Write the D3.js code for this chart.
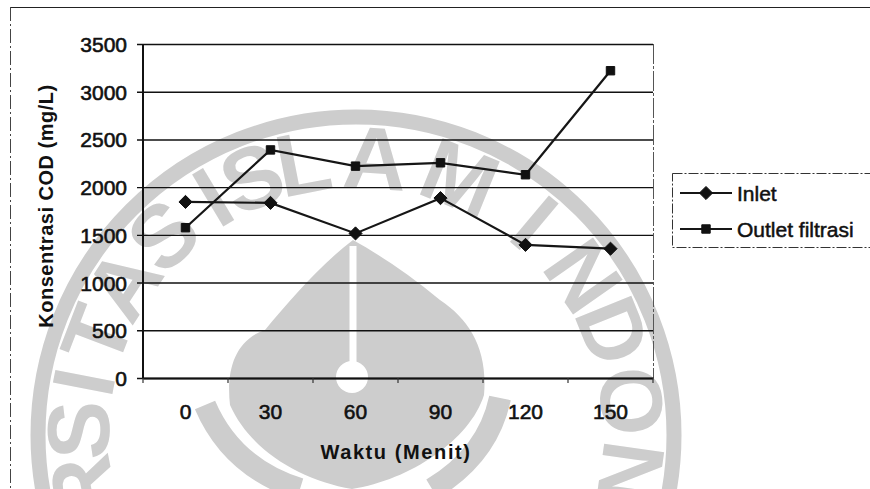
<!DOCTYPE html>
<html>
<head>
<meta charset="utf-8">
<script src="https://cdn.jsdelivr.net/npm/d3@7"></script>
<style>
  body { margin: 0; background: #fff; }
  svg text { font-family: 'Liberation Sans', Arial, sans-serif; fill: #111; }
</style>
</head>
<body>
<div id="chart"></div>
<script>
// data
const waktu = ['0', '30', '60', '90', '120', '150'];
const inlet = [1845, 1835, 1515, 1885, 1395, 1355];
const outletFiltrasi = [1575, 2390, 2220, 2255, 2130, 3220];
const yTicks = [0, 500, 1000, 1500, 2000, 2500, 3000, 3500];

const series = [
  { name: 'Inlet', values: inlet, marker: 'diamond' },
  { name: 'Outlet filtrasi', values: outletFiltrasi, marker: 'square' }
];

const W = 870, H = 489;
const margin = { top: 44, right: 217, bottom: 111, left: 143 };
const width = W - margin.left - margin.right;
const height = H - margin.top - margin.bottom;

const svg = d3.select('#chart').append('svg')
  .attr('width', W)
  .attr('height', H);

// faint watermark left by the scan (university seal)
const WM = '#cdcdcd';
const wm = svg.append('g').attr('class', 'watermark');
const cx = 356, cy = 435;
wm.append('circle')
  .attr('cx', cx).attr('cy', cy).attr('r', 318)
  .attr('fill', 'none')
  .attr('stroke', WM)
  .attr('stroke-width', 15);
// letters of the seal that show inside the frame, with their angle on the ring
const sealLetters = [
  ['R', -101], ['S', -89], ['I', -79], ['T', -69], ['A', -57], ['S', -44],
  ['I', -31], ['S', -22], ['L', -11], ['A', 4], ['M', 22],
  ['I', 40], ['N', 55], ['D', 68], ['O', 83], ['N', 98]
];
wm.selectAll('text')
  .data(sealLetters)
  .enter()
  .append('text')
  .attr('transform', d => `translate(${cx},${cy}) rotate(${d[1]}) translate(0,-247)`)
  .attr('text-anchor', 'middle')
  .attr('font-size', 88)
  .attr('font-weight', 'bold')
  .style('fill', WM)
  .text(d => d[0]);
wm.append('path')
  .attr('d', 'M353,240 C320,265 290,300 265,330 C235,340 226,370 230,405 C250,450 300,480 352,489 C410,480 470,440 484,395 C488,350 470,320 440,300 C410,275 380,255 353,240 Z')
  .attr('fill', WM);
wm.append('path')
  .attr('d', 'M205,405 Q232,468 300,489')
  .attr('fill', 'none').attr('stroke', WM).attr('stroke-width', 22);
wm.append('path')
  .attr('d', 'M500,398 Q488,455 432,489')
  .attr('fill', 'none').attr('stroke', WM).attr('stroke-width', 22);
wm.append('line')
  .attr('x1', 353).attr('x2', 353).attr('y1', 246).attr('y2', 365)
  .attr('stroke', '#fff').attr('stroke-width', 7);
wm.append('circle')
  .attr('cx', 352).attr('cy', 377).attr('r', 16)
  .attr('fill', '#fff');

// outer chart border (only top and left survive in the scan)
svg.append('line')
  .attr('x1', 10).attr('x2', W).attr('y1', 7.5).attr('y2', 7.5)
  .attr('stroke', '#222').attr('stroke-width', 1.2);
svg.append('line')
  .attr('x1', 10.5).attr('x2', 10.5).attr('y1', 7).attr('y2', H)
  .attr('stroke', '#444').attr('stroke-width', 1)
  .attr('stroke-dasharray', '14,3,2,3');

const g = svg.append('g')
  .attr('transform', `translate(${margin.left},${margin.top})`);

const x = d3.scaleBand().domain(waktu).range([0, width]);
const y = d3.scaleLinear().domain([0, 3500]).range([height, 0]);

// gridlines + y axis
const yAxis = g.append('g')
  .call(d3.axisLeft(y).tickValues(yTicks).tickSize(-width).tickPadding(16).tickFormat(d3.format('d')));
yAxis.select('.domain').remove();
yAxis.selectAll('.tick line')
  .attr('stroke', '#111').attr('stroke-width', 1.4)
  .attr('x1', -6);
yAxis.selectAll('.tick text')
  .attr('font-size', 21)
  .attr('dy', '0.36em')
  .style('stroke', '#111').style('stroke-width', 0.6);

// right border of plot area
g.append('line')
  .attr('x1', width + 0.5).attr('x2', width + 0.5).attr('y1', 0).attr('y2', height)
  .attr('stroke', '#555').attr('stroke-width', 1)
  .attr('stroke-dasharray', '20,2,3,2');

// y axis line
g.append('line')
  .attr('x1', 0).attr('x2', 0).attr('y1', 0).attr('y2', height)
  .attr('stroke', '#111').attr('stroke-width', 2);

// x axis: ticks sit between categories
const xAxis = g.append('g')
  .attr('transform', `translate(0,${height})`)
  .call(d3.axisBottom(x).tickSize(0).tickPadding(26));
xAxis.select('.domain').attr('stroke', '#111').attr('stroke-width', 2.2);
xAxis.selectAll('.tick text')
  .attr('font-size', 21)
  .style('stroke', '#111').style('stroke-width', 0.6);
g.append('g')
  .selectAll('line')
  .data(waktu.concat(['end']))
  .enter()
  .append('line')
  .attr('x1', (d, i) => x.step() * i)
  .attr('x2', (d, i) => x.step() * i)
  .attr('y1', height)
  .attr('y2', height + 5)
  .attr('stroke', '#333').attr('stroke-width', 1.2);

// axis titles
svg.append('text')
  .attr('transform', `translate(53,${margin.top + 162}) rotate(-90)`)
  .attr('text-anchor', 'middle')
  .attr('font-size', 20)
  .attr('font-weight', 'bold')
  .attr('letter-spacing', 0.5)
  .text('Konsentrasi COD (mg/L)');
svg.append('text')
  .attr('x', margin.left + width / 2 - 2)
  .attr('y', 459)
  .attr('text-anchor', 'middle')
  .attr('font-size', 20)
  .attr('font-weight', 'bold')
  .attr('letter-spacing', 1.6)
  .text('Waktu (Menit)');

// lines and markers
const line = d3.line()
  .x((d, i) => x(waktu[i]) + x.bandwidth() / 2)
  .y(d => y(d));

const diamond = d3.symbol().type(d3.symbolDiamond2).size(110);
const square = d3.symbol().type(d3.symbolSquare2).size(90);

function drawMarker(sel, type) {
  sel.append('path')
    .attr('d', type === 'diamond' ? diamond() : square())
    .attr('fill', '#111')
    .attr('stroke', '#111')
    .attr('stroke-width', 1);
}

series.forEach(s => {
  g.append('path')
    .datum(s.values)
    .attr('d', line)
    .attr('fill', 'none')
    .attr('stroke', '#161616')
    .attr('stroke-width', 2.2);
  g.append('g')
    .selectAll('g')
    .data(s.values)
    .enter()
    .append('g')
    .attr('transform', (d, i) => `translate(${x(waktu[i]) + x.bandwidth() / 2},${y(d)})`)
    .each(function () { drawMarker(d3.select(this), s.marker); });
});

// legend
const legend = svg.append('g').attr('transform', 'translate(672,173)');
legend.append('rect')
  .attr('x', 0.5).attr('y', 0.5)
  .attr('width', 210).attr('height', 74)
  .attr('fill', '#fff')
  .attr('stroke', '#333').attr('stroke-width', 1)
  .attr('stroke-dasharray', '10,2,2,2');
series.forEach((s, i) => {
  const row = legend.append('g').attr('transform', `translate(0,${20 + i * 36})`);
  row.append('line')
    .attr('x1', 8).attr('x2', 60)
    .attr('stroke', '#161616').attr('stroke-width', 2);
  const m = row.append('g').attr('transform', 'translate(34,0)');
  drawMarker(m, s.marker);
  row.append('text')
    .attr('x', 65)
    .attr('dy', '0.36em')
    .attr('font-size', 21)
    .style('stroke', '#111').style('stroke-width', 0.5)
    .text(s.name);
});
</script>
</body>
</html>
